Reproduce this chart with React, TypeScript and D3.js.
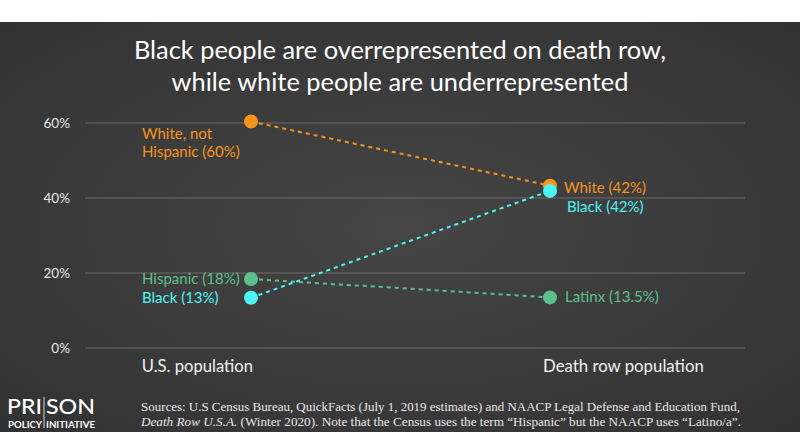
import React from "react";
import * as d3 from "d3";

const categories = ["U.S. population", "Death row population"];
const seriesNames = ["White", "Hispanic", "Black"];
const usValues = [60.4, 18.4, 13.4];
const deathRowValues = [43.3, 13.5, 41.9];
const leftLabels = [["White, not", "Hispanic (60%)"], ["Hispanic (18%)"], ["Black (13%)"]];
const rightLabels = ["White (42%)", "Latinx (13.5%)", "Black (42%)"];
const colors = ["#f7941d", "#5cc08e", "#4cf5f5"];
const yTicks = [0, 20, 40, 60];

const W = 800, H = 446;

export default function App() {
  const y = d3.scaleLinear().domain([0, 60]).range([348, 123]);
  const x = d3.scalePoint<string>().domain(categories).range([251, 550]);
  const x0 = x(categories[0])!;
  const x1 = x(categories[1])!;
  const ff = "Lato, 'Noto Sans', sans-serif";
  const leftLabelPos = [
    { dx: -109, dy: [17, 35] },
    { dx: -109, dy: [5] },
    { dx: -109, dy: [5] },
  ];
  const rightLabelPos = [
    { dx: 14, dy: 7 },
    { dx: 15, dy: 5 },
    { dx: 17, dy: 21 },
  ];
  const order = [0, 1, 2];
  return (
    <div style={{ position: "absolute", left: 0, top: 0 }}>
      <svg width={W} height={H} style={{ display: "block" }}>
        <defs>
          <radialGradient id="bg" cx="50%" cy="50%" r="70%">
            <stop offset="0%" stopColor="#454545" />
            <stop offset="100%" stopColor="#323232" />
          </radialGradient>
        </defs>
        <rect x={0} y={0} width={W} height={H} fill="#ffffff" />
        <rect x={0} y={22} width={W} height={410} fill="url(#bg)" />
        <text x={400} y={59} textAnchor="middle" fill="#ffffff" fontFamily={ff} fontSize={25.4}>
          Black people are overrepresented on death row,
        </text>
        <text x={400} y={91} textAnchor="middle" fill="#ffffff" fontFamily={ff} fontSize={25.4}>
          while white people are underrepresented
        </text>
        {yTicks.map((t) => (
          <g key={t}>
            <line x1={85} x2={745} y1={y(t)} y2={y(t)} stroke="#6a6a6a" strokeWidth={1} />
            <text x={70} y={y(t) + 5} textAnchor="end" fill="#e6e6e6" fontFamily={ff} fontSize={13.5}>
              {t}%
            </text>
          </g>
        ))}
        {order.map((i) => (
          <line
            key={"l" + i}
            x1={x0}
            y1={y(usValues[i])}
            x2={x1}
            y2={y(deathRowValues[i])}
            stroke={colors[i]}
            strokeWidth={2}
            strokeDasharray="4 4"
          />
        ))}
        {order.map((i) => (
          <g key={"d" + i}>
            <circle cx={x0} cy={y(usValues[i])} r={7} fill={colors[i]} />
            <circle cx={x1} cy={y(deathRowValues[i])} r={7} fill={colors[i]} />
          </g>
        ))}
        {order.map((i) => (
          <g key={"t" + i}>
            {leftLabels[i].map((s, k) => (
              <text
                key={k}
                x={x0 + leftLabelPos[i].dx}
                y={y(usValues[i]) + leftLabelPos[i].dy[k]}
                fill={colors[i]}
                fontFamily={ff}
                fontSize={15}
              >
                {s}
              </text>
            ))}
            <text
              x={x1 + rightLabelPos[i].dx}
              y={y(deathRowValues[i]) + rightLabelPos[i].dy}
              fill={colors[i]}
              fontFamily={ff}
              fontSize={15}
            >
              {rightLabels[i]}
            </text>
          </g>
        ))}
        <text x={x0 + 2} y={372} textAnchor="end" fill="#f2f2f2" fontFamily={ff} fontSize={16.6}>
          {categories[0]}
        </text>
        <text x={x1 - 7} y={372} textAnchor="start" fill="#f2f2f2" fontFamily={ff} fontSize={16.8}>
          {categories[1]}
        </text>
        <g fontFamily={ff} fill="#ffffff">
          <text x={7} y={414} fontSize={21} fontWeight={500} textLength={35} lengthAdjust="spacingAndGlyphs">PRI</text>
          <text x={46} y={414} fontSize={21} fontWeight={500} textLength={49} lengthAdjust="spacingAndGlyphs">SON</text>
          <line x1={44} x2={44} y1={397} y2={428} stroke="#ffffff" strokeWidth={0.8} />
          <text x={8} y={428} fontSize={8.5} fontWeight={700} textLength={34} lengthAdjust="spacingAndGlyphs">POLICY</text>
          <text x={46} y={428} fontSize={8.5} fontWeight={700} textLength={49} lengthAdjust="spacingAndGlyphs">INITIATIVE</text>
        </g>
        <g fontFamily="'Liberation Serif', 'DejaVu Serif', serif" fill="#e8e8e8" fontSize={12}>
          <text x={141} y={411} textLength={599} lengthAdjust="spacingAndGlyphs">
            Sources: U.S Census Bureau, QuickFacts (July 1, 2019 estimates) and NAACP Legal Defense and Education Fund,
          </text>
          <text x={141} y={426} textLength={600} lengthAdjust="spacingAndGlyphs">
            <tspan fontStyle="italic">Death Row U.S.A.</tspan> (Winter 2020). Note that the Census uses the term “Hispanic” but the NAACP uses “Latino/a”.
          </text>
        </g>
      </svg>
    </div>
  );
}
